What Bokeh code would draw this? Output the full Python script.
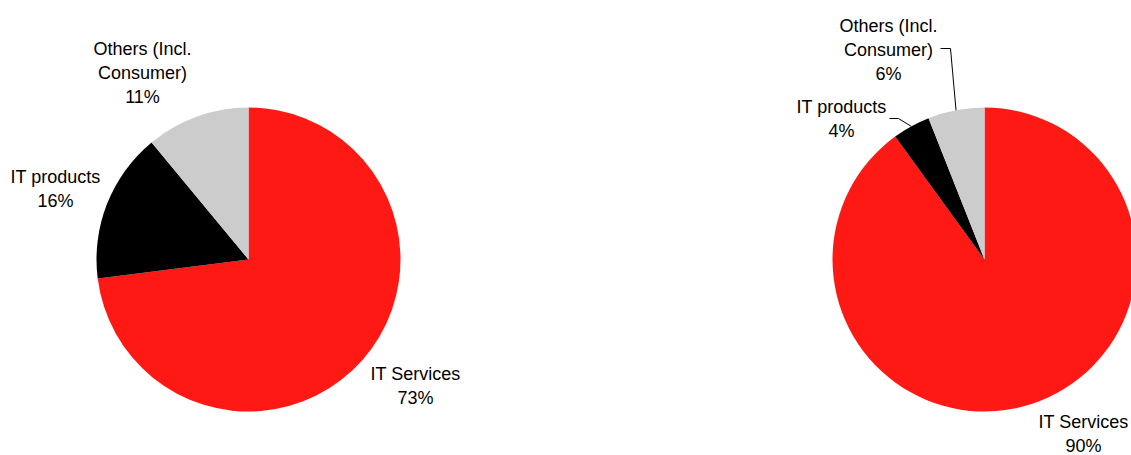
import numpy as np
from bokeh.plotting import figure
from bokeh.models import Range1d, ColumnDataSource
from bokeh.core.properties import value
from bokeh.embed import file_html
from bokeh.resources import INLINE

categories = ["IT Services", "IT products", "Others (Incl.\nConsumer)"]
left_values = [73, 16, 11]
right_values = [90, 4, 6]
colors = ["#FF1914", "#000000", "#CCCCCC"]

W, H = 1131, 455
p = figure(width=W, height=H, x_range=Range1d(0, W), y_range=Range1d(0, H),
           output_backend="svg", toolbar_location=None, min_border=0,
           x_axis_type=None, y_axis_type=None)
p.grid.visible = False
p.outline_line_color = None
p.background_fill_color = "white"

R = 152
FONT = value("Liberation Sans")

def pie(cx, cy_pix, vals):
    cy = H - cy_pix
    total = float(sum(vals))
    cum = np.cumsum([0] + list(vals)) / total * 2 * np.pi
    starts = np.pi / 2 - cum[1:]
    ends = np.pi / 2 - cum[:-1]
    src = ColumnDataSource(dict(x=[cx] * len(vals), y=[cy] * len(vals),
                                start=starts, end=ends, color=colors))
    p.wedge(x="x", y="y", radius=R, start_angle="start", end_angle="end",
            direction="anticlock", fill_color="color", line_color=None, source=src)
    mids = (starts + ends) / 2
    return cx, cy, mids

def label(x, y_pix, txt):
    p.text(x=[x], y=[H - y_pix], text=[txt], text_font=FONT, text_font_size="18px",
           text_align="center", text_baseline="middle", text_line_height=1.2,
           text_color="#000000")

# left pie
pie(248, 259, left_values)
label(142, 72, "Others (Incl.\nConsumer)\n" + f"{left_values[2]}%")
label(55, 188, "IT products\n" + f"{left_values[1]}%")
label(415, 385, "IT Services\n" + f"{left_values[0]}%")

# right pie
cx, cy, mids = pie(984, 259, right_values)
label(888, 49, "Others (Incl.\nConsumer)\n" + f"{right_values[2]}%")
label(841, 118, "IT products\n" + f"{right_values[1]}%")
label(1083, 433, "IT Services\n" + f"{right_values[0]}%")

# leader lines
ox, oy = cx + R * np.cos(mids[2]), cy + R * np.sin(mids[2])
p.line(x=[940, 950, ox], y=[H - 48, H - 48, oy], line_color="black", line_width=1)
ix, iy = cx + R * np.cos(mids[1]), cy + R * np.sin(mids[1])
p.line(x=[889, 898, ix], y=[H - 118, H - 118, iy], line_color="black", line_width=1)

open("out.html", "w").write(file_html(p, INLINE))
